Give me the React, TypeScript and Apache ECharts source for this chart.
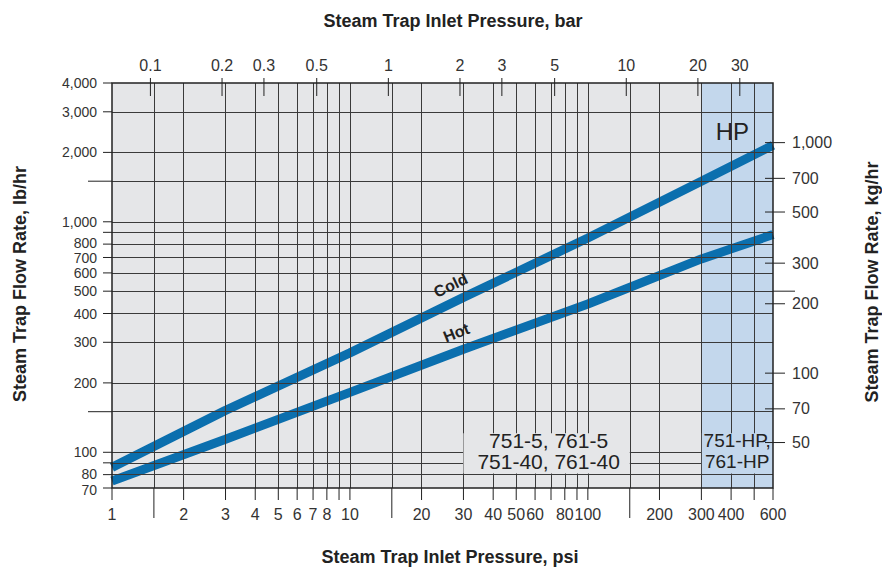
import React, { useEffect, useRef } from "react";
import * as echarts from "echarts";

// ---- data ----
const pressurePsi = [1, 3, 10, 30, 100, 300, 600];
const coldFlowLbHr = [86, 152, 270, 470, 850, 1500, 2150];
const hotFlowLbHr = [75, 114, 182, 280, 440, 690, 880];

// ---- axis tick / grid values ----
const psiGridValues = [1.5, 2, 3, 4, 5, 6, 7, 8, 9, 10, 15, 20, 30, 40, 50, 60, 70, 80, 90, 100, 150, 200, 300, 400, 500];
const psiLongTicks = [1.5, 15, 150];
const psiLabels = [1, 2, 3, 4, 5, 6, 7, 8, 10, 20, 30, 40, 50, 60, 80, 100, 200, 300, 400, 600];
const lbGridValues = [80, 90, 100, 150, 200, 300, 400, 500, 600, 700, 800, 900, 1000, 1500, 2000, 3000];
const lbLongTicks = [150, 1500];
const lbLabels = [70, 80, 100, 200, 300, 400, 500, 600, 700, 800, 1000, 2000, 3000, 4000];
const barLabels = [0.1, 0.2, 0.3, 0.5, 1, 2, 3, 5, 10, 20, 30];
const kgLabels = [50, 70, 100, 200, 300, 500, 700, 1000];
const hpRangePsi = [300, 600];

const PSI_MIN = 1;
const PSI_MAX = 600;
const LB_MIN = 70;
const LB_MAX = 4000;
const PSI_PER_BAR = 14.5038;
const LB_PER_KG = 2.20462;

const FONT = "'Liberation Sans', Arial, Helvetica, sans-serif";
const LINE_BLUE = "#0b6fae";
const PLOT_BG = "#e5e6e8";
const HP_BG = "#c3d7ec";
const GRID_COLOR = "#3a3a3a";
const TEXT = "#333";

const fmt = (v: number) => v.toLocaleString("en-US");

// small vertical nudges (px) for crowded left labels
const leftLabelNudge: Record<number, number> = { 70: 1.5, 80: -1, 700: 1, 800: -1 };

export default function App() {
  const ref = useRef<HTMLDivElement>(null);

  useEffect(() => {
    if (!ref.current) return;
    const chart = echarts.init(ref.current, null, { renderer: "svg" });

    const hiddenAxis = {
      axisLine: { show: false },
      axisTick: { show: false },
      axisLabel: { show: false },
      splitLine: { show: false },
    };

    chart.setOption({
      animation: false,
      grid: {
        left: 112,
        top: 83,
        width: 661,
        height: 405,
        show: true,
        backgroundColor: PLOT_BG,
        borderWidth: 0,
      },
      xAxis: { type: "log", logBase: 10, min: PSI_MIN, max: PSI_MAX, ...hiddenAxis },
      yAxis: { type: "log", logBase: 10, min: LB_MIN, max: LB_MAX, ...hiddenAxis },
      series: [
        {
          type: "line",
          data: [],
          z: 1,
          silent: true,
          markArea: {
            silent: true,
            itemStyle: { color: HP_BG },
            data: [[{ xAxis: hpRangePsi[0] }, { xAxis: hpRangePsi[1] }]],
          },
        },
        {
          type: "line",
          data: [],
          z: 2,
          silent: true,
          markLine: {
            silent: true,
            symbol: ["none", "none"],
            label: { show: false },
            lineStyle: { color: GRID_COLOR, width: 1, type: "solid" },
            data: [
              ...psiGridValues.map((v) => ({ xAxis: v })),
              ...lbGridValues.map((v) => ({ yAxis: v })),
            ],
          },
        },
        {
          type: "line",
          name: "Cold",
          z: 3,
          data: pressurePsi.map((p, i) => [p, coldFlowLbHr[i]]),
          symbol: "none",
          showSymbol: false,
          lineStyle: { color: LINE_BLUE, width: 9, cap: "butt" },
        },
        {
          type: "line",
          name: "Hot",
          z: 3,
          data: pressurePsi.map((p, i) => [p, hotFlowLbHr[i]]),
          symbol: "none",
          showSymbol: false,
          lineStyle: { color: LINE_BLUE, width: 9, cap: "butt" },
        },
      ],
    });

    const px = (x: number, y: number) =>
      chart.convertToPixel({ gridIndex: 0 }, [x, y]) as number[];
    const [xL, yT] = px(PSI_MIN, LB_MAX);
    const [xR, yB] = px(PSI_MAX, LB_MIN);

    const g: any[] = [];
    const line = (x1: number, y1: number, x2: number, y2: number, w = 1) =>
      g.push({
        type: "line",
        z: 100,
        shape: { x1, y1, x2, y2 },
        style: { stroke: "#222", lineWidth: w },
        silent: true,
      });
    const text = (
      s: string,
      x: number,
      y: number,
      font: string,
      align: string,
      fill = TEXT,
      rotation = 0
    ) =>
      g.push({
        type: "text",
        z: 101,
        x,
        y,
        rotation,
        silent: true,
        style: {
          text: s,
          font,
          fill,
          textAlign: align,
          align,
          textVerticalAlign: "middle",
          verticalAlign: "middle",
        },
      });
    const rect = (x1: number, y1: number, x2: number, y2: number, fill: string) =>
      g.push({
        type: "rect",
        z: 99,
        silent: true,
        shape: { x: Math.min(x1, x2), y: Math.min(y1, y2), width: Math.abs(x2 - x1), height: Math.abs(y2 - y1) },
        style: { fill },
      });

    const tickFont = `16px ${FONT}`;
    const leftTickFont = `14px ${FONT}`;

    // bottom axis (psi)
    [PSI_MIN, ...psiGridValues, PSI_MAX].forEach((v) => {
      const x = px(v, LB_MIN)[0];
      line(x, yB, x, yB + (psiLongTicks.includes(v) ? 30 : 12));
    });
    psiLabels.forEach((v) => text(String(v), px(v, LB_MIN)[0], yB + 26, tickFont, "center"));

    // top axis (bar)
    barLabels.forEach((b) => {
      const x = px(b * PSI_PER_BAR, LB_MAX)[0];
      line(x, yT - 5, x, yT + 13);
      text(String(b), x, yT - 18, tickFont, "center");
    });

    // left axis (lb/hr)
    [LB_MIN, ...lbGridValues, LB_MAX].forEach((v) => {
      const y = px(PSI_MIN, v)[1];
      line(lbLongTicks.includes(v) ? xL - 24 : xL - 9, y, xL, y);
    });
    lbLabels.forEach((v) =>
      text(fmt(v), xL - 15, px(PSI_MIN, v)[1] + (leftLabelNudge[v] || 0), leftTickFont, "right")
    );

    // right axis (kg/hr)
    kgLabels.forEach((k) => {
      const y = px(PSI_MAX, k * LB_PER_KG)[1];
      line(xR - 8, y, xR + 12, y);
      text(fmt(k), xR + 19, y, tickFont, "left");
    });
    {
      const y = px(PSI_MAX, 500)[1];
      line(xR, y, xR + 22, y);
    }

    // plot border
    g.push({
      type: "rect",
      z: 102,
      silent: true,
      shape: { x: xL, y: yT, width: xR - xL, height: yB - yT },
      style: { fill: "none", stroke: "#222", lineWidth: 1.5 },
    });

    // text boxes
    {
      const [bx1, by1] = px(30, 121);
      const [bx2, by2] = px(150, 81);
      rect(bx1, by1, bx2, by2, PLOT_BG);
      const cx = (bx1 + bx2) / 2 + 2;
      text("751-5, 761-5", cx, px(30, 112)[1], `21px ${FONT}`, "center", "#222");
      text("751-40, 761-40", cx, px(30, 91)[1], `21px ${FONT}`, "center", "#222");
      const [hx1, hy1] = px(hpRangePsi[0], 121);
      const [hx2, hy2] = px(hpRangePsi[1], 81);
      rect(hx1 + 0.5, hy1, hx2, hy2, HP_BG);
      const hcx = (hx1 + hx2) / 2;
      text("751-HP,", hcx, px(30, 112)[1], `19px ${FONT}`, "center", "#222");
      text("761-HP", hcx, px(30, 91)[1], `19px ${FONT}`, "center", "#222");
    }

    // HP label
    {
      const [hx, hy] = px(405, 2470);
      text("HP", hx, hy, `24px ${FONT}`, "center", "#222");
    }

    // curve labels
    {
      const [cx, cy] = px(26.5, 530);
      text("Cold", cx, cy, `bold 16px ${FONT}`, "center", "#222", 0.45);
      const [hx, hy] = px(28, 330);
      text("Hot", hx, hy, `bold 16px ${FONT}`, "center", "#222", 0.38);
    }

    // axis titles
    const titleFont = `bold 18px ${FONT}`;
    text("Steam Trap Inlet Pressure, bar", 453, 21, titleFont, "center", "#222");
    text("Steam Trap Inlet Pressure, psi", 450, 557, titleFont, "center", "#222");
    text("Steam Trap Flow Rate, lb/hr", 20, 284, titleFont, "center", "#222", Math.PI / 2);
    text("Steam Trap Flow Rate, kg/hr", 872, 282, titleFont, "center", "#222", Math.PI / 2);

    chart.setOption({ graphic: { elements: g } });

    return () => chart.dispose();
  }, []);

  return (
    <div
      ref={ref}
      style={{ position: "absolute", left: 0, top: 0, width: 882, height: 567, background: "#fff" }}
    />
  );
}
